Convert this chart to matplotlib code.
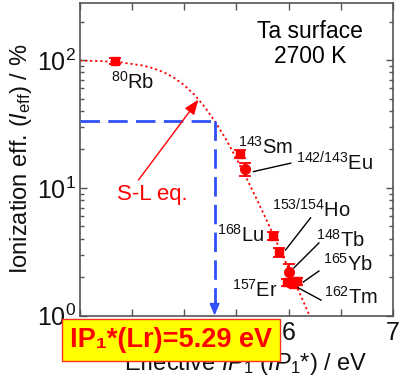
import matplotlib
matplotlib.use("Agg")
import matplotlib.pyplot as plt
from matplotlib.ticker import FixedLocator, LogLocator, NullFormatter

plt.rcParams['font.family'] = ['Liberation Sans', 'DejaVu Sans']
plt.rcParams['mathtext.fontset'] = 'custom'
plt.rcParams['mathtext.rm'] = 'Liberation Sans'
plt.rcParams['mathtext.it'] = 'Liberation Sans:italic'
plt.rcParams['mathtext.bf'] = 'Liberation Sans:bold'

# ---- data ----
# measured points: (nuclide, effective IP1 [eV], ionization efficiency [%], y-error [%])
nuclides = ["80Rb", "143Sm", "142/143Eu", "168Lu", "153/154Ho", "148Tb", "157Er", "162Tm", "165Yb"]
ip_eff = [4.34, 5.53, 5.58, 5.85, 5.91, 6.00, 5.98, 6.04, 6.08]
i_eff = [99.0, 18.5, 14.0, 4.2, 3.13, 2.21, 1.82, 1.78, 1.85]
i_err = [5.0, 1.3, 1.7, 0.3, 0.25, 0.3, 0.12, 0.12, 0.12]
markers = ["s", "s", "o", "s", "s", "o", "s", "s", "s"]

# Saha-Langmuir curve
sl_x = [4.0, 4.2, 4.4, 4.6, 4.7, 4.8, 4.9, 5.0, 5.1, 5.2, 5.3, 5.4, 5.5, 5.6,
        5.7, 5.8, 5.9, 6.0, 6.1, 6.2, 6.3]
sl_y = [99.2, 98.2, 95.8, 90.7, 86.4, 80.5, 72.9, 63.6, 53.2, 42.5, 32.5, 23.9,
        16.9, 11.7, 7.95, 5.32, 3.52, 2.32, 1.53, 1.00, 0.65]

# Lr result
lr_ip = 5.29
lr_ieff = 33.5

x_ticks = [4, 5, 6, 7]
x_ticklabels = ["", "", "6", "7"]   # 4 and 5 are hidden behind the box
x_minor = [4.5, 5.5, 6.5]
y_ticks = [1, 10, 100]
y_ticklabels = ["$10^{0}$", "$10^{1}$", "$10^{2}$"]

red = "#FF0000"
blue = "#3050F8"

fig = plt.figure(figsize=(4.05, 3.79), dpi=100)
ax = fig.add_axes([80 / 405, (379 - 315.5) / 379, 313 / 405, 312.5 / 379])
ax.set_yscale("log")
ax.set_xlim(4, 7)
ax.set_ylim(1, 280)

# S-L curve
ax.plot(sl_x, sl_y, linestyle=(0, (1.2, 1.6)), color=red, lw=1.3, zorder=2)

# data points
for x, y, e, m in zip(ip_eff, i_eff, i_err, markers):
    ax.errorbar(x, y, yerr=e, fmt=m, color=red, ms=6 if m == "s" else 7,
                capsize=4.5, elinewidth=1.3, capthick=1.3, zorder=4)

# blue dashed lines + arrow
ax.plot([4, lr_ip], [lr_ieff, lr_ieff], color=blue, lw=2, dashes=(7, 3), zorder=3)
ax.plot([lr_ip, lr_ip], [lr_ieff, 1.12], color=blue, lw=2, dashes=(7, 3), zorder=3)
ax.annotate("", xy=(lr_ip, 1.0), xytext=(lr_ip, 1.13),
            arrowprops=dict(arrowstyle="-|>,head_length=0.7,head_width=0.3",
                            color=blue, lw=1.2, shrinkA=0, shrinkB=0), zorder=3)

# S-L arrow
ax.annotate("", xy=(5.135, 49), xytext=(4.56, 11.5),
            arrowprops=dict(arrowstyle="-|>,head_length=0.9,head_width=0.35",
                            color=red, lw=1.0, shrinkA=0, shrinkB=0), zorder=3)
ax.text(4.69, 8.9, "S-L eq.", color=red, fontsize=16, ha="center", va="center")

# labels
lab_fs = 14.5
def lab(x, y, mass, el):
    ax.text(x, y, r"$^{\mathregular{%s}}$%s" % (mass, el), fontsize=lab_fs,
            ha="center", va="center", color="#111111", zorder=5)

lab(4.50, 68, "80", "Rb")
lab(5.78, 21, "143", "Sm")
lab(6.44, 15.6, "142/143", "Eu")
lab(5.54, 4.28, "168", "Lu")
lab(6.22, 6.7, "153/154", "Ho")
lab(6.50, 3.9, "148", "Tb")
lab(6.57, 2.53, "165", "Yb")
lab(5.68, 1.58, "157", "Er")
lab(6.60, 1.40, "162", "Tm")

# leader lines
lines = [((5.663, 13.4), (6.02, 15.6)),
         ((5.97, 3.26), (6.21, 5.82)),
         ((6.05, 2.36), (6.29, 3.7)),
         ((6.14, 1.83), (6.29, 2.23)),
         ((6.09, 1.65), (6.31, 1.32))]
for (x0, y0), (x1, y1) in lines:
    ax.plot([x0, x1], [y0, y1], color="black", lw=1.0, zorder=5)

ax.text(0.735, 0.87, "Ta surface\n2700 K", transform=ax.transAxes, fontsize=16.5,
        ha="center", va="center", linespacing=1.1)

# axes style
ax.xaxis.set_major_locator(FixedLocator(x_ticks))
ax.xaxis.set_minor_locator(FixedLocator(x_minor))
ax.yaxis.set_major_locator(FixedLocator(y_ticks))
ax.yaxis.set_minor_locator(LogLocator(base=10, subs=range(2, 10)))
ax.yaxis.set_minor_formatter(NullFormatter())
ax.set_yticklabels(y_ticklabels)
ax.set_xticklabels(x_ticklabels)
ax.tick_params(which="both", direction="in", top=True, right=True,
               labelsize=18, colors="#555555", labelcolor="#111111")
ax.tick_params(which="major", length=5, width=1)
ax.tick_params(which="minor", length=3, width=1)
ax.tick_params(axis="x", which="minor", length=5)
ax.tick_params(axis="x", pad=4)
ax.tick_params(axis="y", pad=3)
for s in ax.spines.values():
    s.set_color("#555555")
    s.set_linewidth(1.2)

ax.set_xlabel(r"Effective $\mathit{IP}_1$ ($\mathit{IP}_1$*) / eV", fontsize=17,
              color="#111111", labelpad=4)
ax.xaxis.label.set_x(0.53)
ax.set_ylabel(r"Ionization eff. ($\mathit{I}_{\mathregular{eff}}$) / %", fontsize=17,
              color="#111111", labelpad=2)

# highlighted box
fig.text(171 / 405, 1 - 340 / 379, "IP\u2081*(Lr)=5.29 eV", fontsize=19.5,
         fontweight="bold", color="#FF0000", ha="center", va="center",
         family=["Liberation Sans", "DejaVu Sans"],
         bbox=dict(boxstyle="square,pad=0.3", facecolor="#FFFF00",
                   edgecolor="#FF3020", lw=1.0), zorder=10)

fig.savefig("out.png", dpi=100)
